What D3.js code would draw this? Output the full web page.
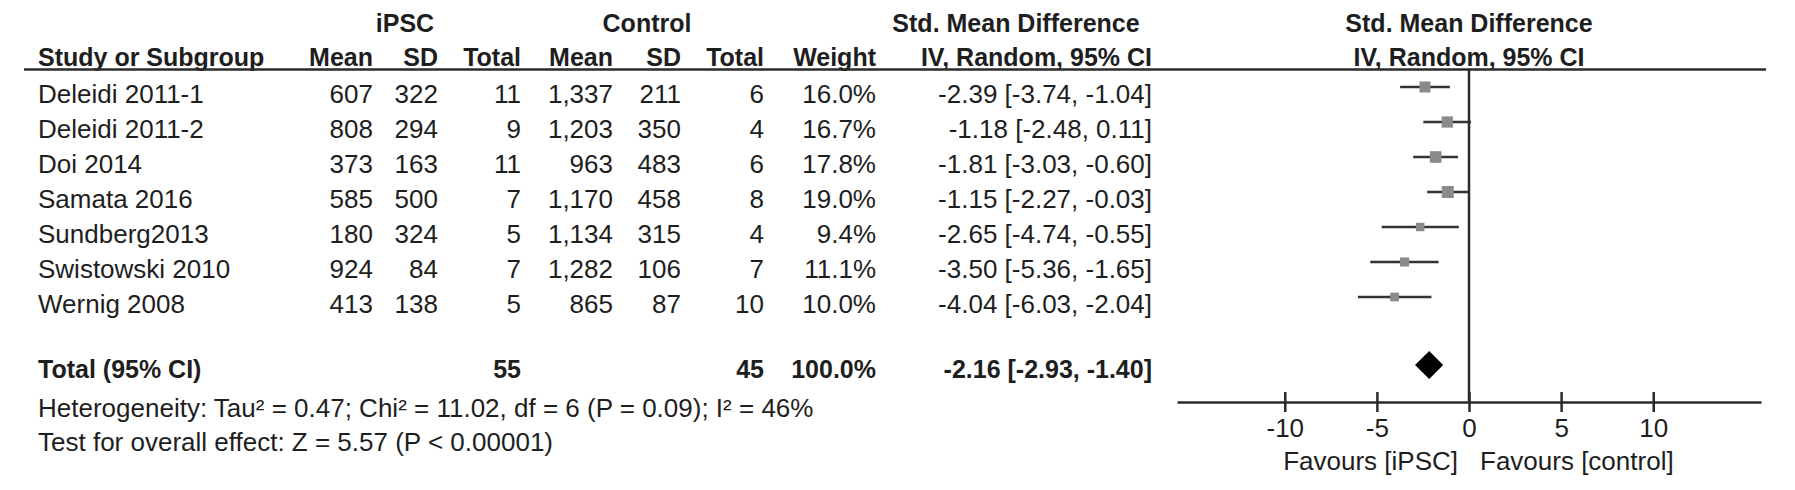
<!DOCTYPE html>
<html>
<head>
<meta charset="utf-8">
<script src="https://cdn.jsdelivr.net/npm/d3@7"></script>
<style>
  html, body { margin: 0; padding: 0; background: #fff; }
  svg { display: block; }
  text { font-family: "Liberation Sans", Arial, sans-serif; font-size: 26px; fill: #1e1e1e; }
  .b { font-weight: bold; font-size: 25px; }
</style>
</head>
<body>
<div id="chart"></div>
<script>
// data
const studies = ['Deleidi 2011-1', 'Deleidi 2011-2', 'Doi 2014', 'Samata 2016', 'Sundberg2013', 'Swistowski 2010', 'Wernig 2008'];
const ipscMean = [607, 808, 373, 585, 180, 924, 413];
const ipscSD = [322, 294, 163, 500, 324, 84, 138];
const ipscTotal = [11, 9, 11, 7, 5, 7, 5];
const ctrlMean = [1337, 1203, 963, 1170, 1134, 1282, 865];
const ctrlSD = [211, 350, 483, 458, 315, 106, 87];
const ctrlTotal = [6, 4, 6, 8, 4, 7, 10];
const weights = [16.0, 16.7, 17.8, 19.0, 9.4, 11.1, 10.0];
const smd = [-2.39, -1.18, -1.81, -1.15, -2.65, -3.50, -4.04];
const ciLow = [-3.74, -2.48, -3.03, -2.27, -4.74, -5.36, -6.03];
const ciHigh = [-1.04, 0.11, -0.60, -0.03, -0.55, -1.65, -2.04];

const totalLabel = 'Total (95% CI)';
const totalN = [55, 45];
const totalWeight = 100.0;
const totalEffect = [-2.16, -2.93, -1.40];   // estimate, low, high
const xTicks = [-10, -5, 0, 5, 10];
const favourLabels = ['Favours [iPSC]', 'Favours [control]'];
const footLines = [
  'Heterogeneity: Tau\u00b2 = 0.47; Chi\u00b2 = 11.02, df = 6 (P = 0.09); I\u00b2 = 46%',
  'Test for overall effect: Z = 5.57 (P < 0.00001)'
];

const W = 1795, H = 490;
const svg = d3.select('#chart').append('svg').attr('width', W).attr('height', H);

// plain hyphen for negatives, like the original
const loc = d3.formatLocale({ decimal: '.', thousands: ',', grouping: [3], currency: ['', ''], minus: '-' });
const fInt = loc.format(',');
const f1 = loc.format('.1f');
const f2 = loc.format('.2f');
const ciText = (e, l, h) => `${f2(e)} [${f2(l)}, ${f2(h)}]`;

// column right edges
const cols = { study: 38, im: 373, isd: 438, it: 521, cm: 613, csd: 681, ct: 764, w: 876, ci: 1152 };

const rowY = d3.scalePoint().domain(studies).range([87, 297]);
const textOff = 16;   // text baseline sits below the marker centre

const x = d3.scaleLinear().domain([-15.85, 15.85]).range([1177, 1761]);
const boxSize = d3.scaleSqrt().domain([0, 19]).range([0, 12]);

const lineCol = '#2b2b2b';

// group headers
const heads = [
  { t: 'iPSC', x: 405 }, { t: 'Control', x: 647 },
  { t: 'Std. Mean Difference', x: 1016 }, { t: 'Std. Mean Difference', x: x(0) }
];
svg.selectAll('.gh').data(heads).join('text')
  .attr('class', 'b').attr('x', d => d.x).attr('y', 32)
  .attr('text-anchor', 'middle').text(d => d.t);

const colHeads = [
  { t: 'Study or Subgroup', x: cols.study, a: 'start' },
  { t: 'Mean', x: cols.im, a: 'end' }, { t: 'SD', x: cols.isd, a: 'end' }, { t: 'Total', x: cols.it, a: 'end' },
  { t: 'Mean', x: cols.cm, a: 'end' }, { t: 'SD', x: cols.csd, a: 'end' }, { t: 'Total', x: cols.ct, a: 'end' },
  { t: 'Weight', x: cols.w, a: 'end' }, { t: 'IV, Random, 95% CI', x: cols.ci, a: 'end' },
  { t: 'IV, Random, 95% CI', x: x(0), a: 'middle' }
];
svg.selectAll('.ch').data(colHeads).join('text')
  .attr('class', 'b').attr('x', d => d.x).attr('y', 66)
  .attr('text-anchor', d => d.a).text(d => d.t);

svg.append('line').attr('x1', 24).attr('x2', 1766).attr('y1', 69.5).attr('y2', 69.5)
  .attr('stroke', lineCol).attr('stroke-width', 2.5);

// study rows
const rows = svg.selectAll('.row').data(studies).join('g')
  .attr('transform', d => `translate(0,${rowY(d) + textOff})`);

const cells = [
  { x: cols.study, a: 'start', v: i => studies[i] },
  { x: cols.im, a: 'end', v: i => fInt(ipscMean[i]) },
  { x: cols.isd, a: 'end', v: i => fInt(ipscSD[i]) },
  { x: cols.it, a: 'end', v: i => ipscTotal[i] },
  { x: cols.cm, a: 'end', v: i => fInt(ctrlMean[i]) },
  { x: cols.csd, a: 'end', v: i => fInt(ctrlSD[i]) },
  { x: cols.ct, a: 'end', v: i => ctrlTotal[i] },
  { x: cols.w, a: 'end', v: i => f1(weights[i]) + '%' },
  { x: cols.ci, a: 'end', v: i => ciText(smd[i], ciLow[i], ciHigh[i]) }
];
rows.each(function (d, i) {
  d3.select(this).selectAll('text').data(cells).join('text')
    .attr('x', c => c.x).attr('text-anchor', c => c.a).text(c => c.v(i));
});

// total row
const totalY = 365;
const totalCells = [
  { x: cols.study, a: 'start', t: totalLabel },
  { x: cols.it, a: 'end', t: totalN[0] },
  { x: cols.ct, a: 'end', t: totalN[1] },
  { x: cols.w, a: 'end', t: f1(totalWeight) + '%' },
  { x: cols.ci, a: 'end', t: ciText(...totalEffect) }
];
svg.selectAll('.tot').data(totalCells).join('text')
  .attr('class', 'b').attr('x', d => d.x).attr('y', totalY + 13)
  .attr('text-anchor', d => d.a).text(d => d.t);

svg.selectAll('.foot').data(footLines).join('text')
  .attr('x', cols.study).attr('y', (d, i) => 417 + i * 34).text(d => d);

// forest plot
const axisY = 402;
svg.append('line').attr('x1', x(0)).attr('x2', x(0)).attr('y1', 69).attr('y2', axisY)
  .attr('stroke', lineCol).attr('stroke-width', 2.5);

const ci = svg.append('g');
ci.selectAll('line').data(studies).join('line')
  .attr('x1', (d, i) => x(ciLow[i])).attr('x2', (d, i) => x(ciHigh[i]))
  .attr('y1', d => rowY(d)).attr('y2', d => rowY(d))
  .attr('stroke', '#333').attr('stroke-width', 2.5);
ci.selectAll('rect').data(studies).join('rect')
  .attr('x', (d, i) => x(smd[i]) - boxSize(weights[i]) / 2)
  .attr('y', (d, i) => rowY(d) - boxSize(weights[i]) / 2)
  .attr('width', (d, i) => boxSize(weights[i]))
  .attr('height', (d, i) => boxSize(weights[i]))
  .attr('fill', '#8a8a8a');

const [te, tl, th] = totalEffect;
svg.append('path')
  .attr('d', `M${x(tl)},${totalY} L${x(te)},${totalY - 14} L${x(th)},${totalY} L${x(te)},${totalY + 14} Z`)
  .attr('fill', '#000');

const axis = svg.append('g').attr('transform', `translate(0,${axisY})`)
  .call(d3.axisBottom(x).tickValues(xTicks).tickSize(10).tickPadding(7).tickSizeOuter(0)
    .tickFormat(d => loc.format('d')(d)));
axis.select('.domain').attr('stroke', lineCol).attr('stroke-width', 2.5);
axis.selectAll('.tick line').attr('y1', -10).attr('y2', 10)
  .attr('stroke', lineCol).attr('stroke-width', 2.5);
axis.selectAll('.tick text').attr('fill', '#1e1e1e')
  .style('font-size', '26px').style('font-family', '"Liberation Sans", Arial, sans-serif');

svg.append('text').attr('x', x(0) - 11).attr('y', 470).attr('text-anchor', 'end').text(favourLabels[0]);
svg.append('text').attr('x', x(0) + 11).attr('y', 470).attr('text-anchor', 'start').text(favourLabels[1]);
</script>
</body>
</html>
